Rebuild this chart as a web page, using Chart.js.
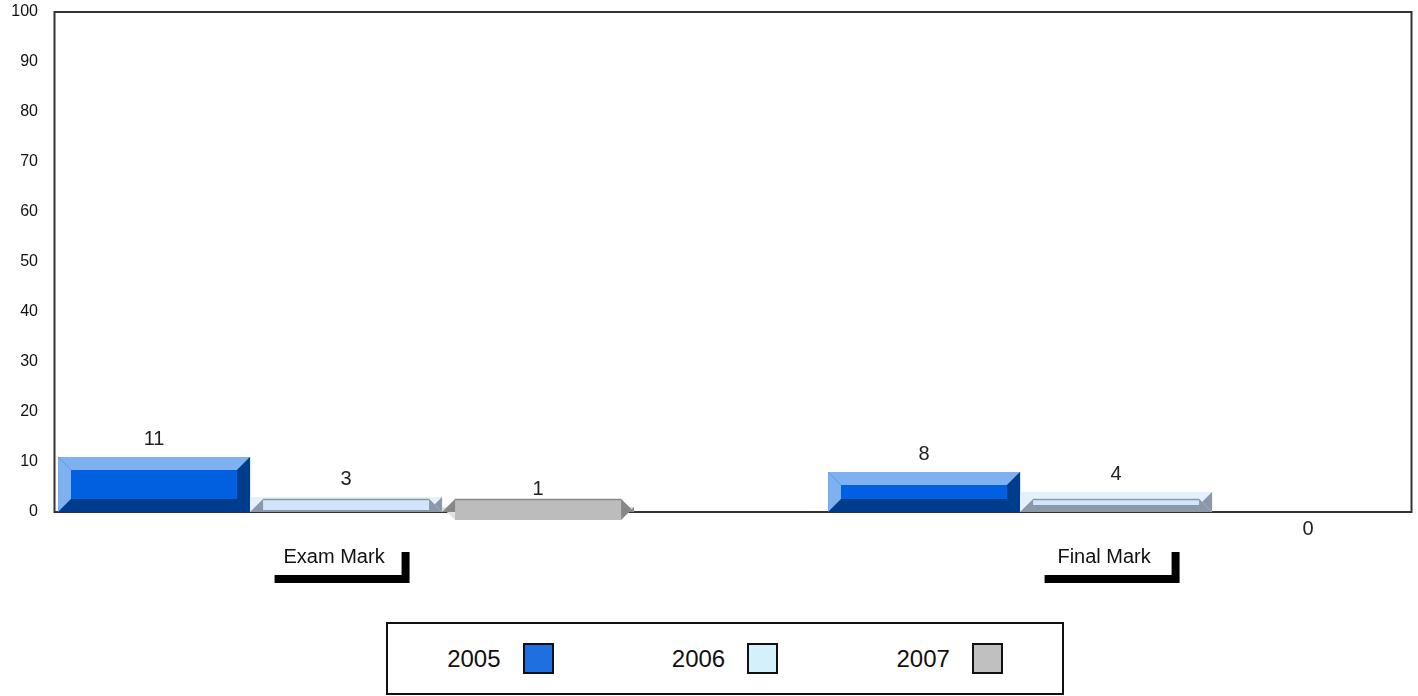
<!DOCTYPE html>
<html>
<head>
<meta charset="utf-8">
<script src="https://cdn.jsdelivr.net/npm/chart.js@4"></script>
<style>
  body { margin: 0; background: #fff; }
  #wrap { position: relative; width: 1418px; height: 696px; }
  #legend {
    position: absolute; left: 386px; top: 622px; width: 678px; height: 73px;
    box-sizing: border-box; border: 2px solid #111; background: #fff;
    display: flex; justify-content: space-around; align-items: center;
    font-family: "Liberation Sans", Arial, sans-serif; font-size: 24px; color: #111;
  }
  #legend .item { display: flex; align-items: center; gap: 22px; }
  #legend .sw { width: 31px; height: 31px; box-sizing: border-box; border: 2px solid #111; }
</style>
</head>
<body>
<div id="wrap">
  <canvas id="chart"></canvas>
  <div id="legend"></div>
</div>
<script>
// data
const categories = ['Exam Mark', 'Final Mark'];
const years = ['2005', '2006', '2007'];
const marks2005 = [11, 8];
const marks2006 = [3, 4];
const marks2007 = [1, 0];

// colours: face, light bevel, dark bevel, legend swatch
const faceColors = ['#0060e0', '#d2e4fa', '#bcbcbc'];
const lightColors = ['#7fb0ef', '#e6f0fc', '#e2e2e2'];
const darkColors = ['#003c8c', '#8a98aa', '#888888'];
const swatchColors = ['#1f6fe0', '#d4f0fa', '#c0c0c0'];

const seriesValues = [marks2005, marks2006, marks2007];

// legend (text left of the swatch, inside a framed box)
const legendEl = document.getElementById('legend');
years.forEach((y, i) => {
  const it = document.createElement('div');
  it.className = 'item';
  it.innerHTML = '<span>' + y + '</span><span class="sw" style="background:' + swatchColors[i] + '"></span>';
  legendEl.appendChild(it);
});

// frame around the plot, drawn under the bars
const framePlugin = {
  id: 'frame',
  beforeDatasetsDraw(chart) {
    const { ctx, chartArea: a } = chart;
    ctx.save();
    ctx.strokeStyle = '#333';
    ctx.lineWidth = 2;
    ctx.strokeRect(a.left - 0.5, a.top, a.right - a.left + 1, a.bottom - a.top);
    ctx.restore();
  }
};

// 3D bevel look on top of each bar, plus the value labels
const bevelPlugin = {
  id: 'bevel',
  afterDatasetsDraw(chart) {
    const ctx = chart.ctx;
    const b = 13;
    chart.data.datasets.forEach((ds, di) => {
      const meta = chart.getDatasetMeta(di);
      meta.data.forEach((bar, i) => {
        const v = seriesValues[di][i];
        const L = bar.x - bar.width / 2, R = bar.x + bar.width / 2;
        const T = bar.y, B = bar.base;
        ctx.save();
        if (v !== 0) {
          const l = L + b, r = R - b, t = T + b, bt = B - b;
          const poly = (pts, col) => {
            ctx.beginPath();
            ctx.moveTo(pts[0][0], pts[0][1]);
            for (let k = 1; k < pts.length; k++) ctx.lineTo(pts[k][0], pts[k][1]);
            ctx.closePath();
            ctx.fillStyle = col;
            ctx.fill();
          };
          poly([[L, T], [R, T], [r, t], [l, t]], lightColors[di]);
          poly([[L, T], [l, t], [l, bt], [L, B]], lightColors[di]);
          poly([[L, B], [R, B], [r, bt], [l, bt]], darkColors[di]);
          poly([[R, T], [R, B], [r, bt], [r, t]], darkColors[di]);
          const fy = Math.min(t, bt), fh = Math.abs(bt - t);
          ctx.fillStyle = faceColors[di];
          ctx.fillRect(l, fy, r - l, fh);
          if (t > bt) {
            ctx.strokeStyle = darkColors[di];
            ctx.lineWidth = 1.5;
            ctx.beginPath();
            ctx.moveTo(l, fy + 0.5);
            ctx.lineTo(r, fy + 0.5);
            ctx.stroke();
          }
        }
        ctx.fillStyle = '#222';
        ctx.font = '20px "Liberation Sans", Arial, sans-serif';
        ctx.textAlign = 'center';
        ctx.textBaseline = 'middle';
        const ly = v === 0 ? B + 17 : T - 18;
        ctx.fillText(String(v), bar.x, ly);
        ctx.restore();
      });
    });
  }
};

// category labels in white boxes with a black drop shadow
const catLabelPlugin = {
  id: 'catLabels',
  afterDraw(chart) {
    const ctx = chart.ctx;
    const xs = chart.scales.x;
    const w = 135, h = 31, sh = 8;
    const top = chart.chartArea.bottom + 32;
    categories.forEach((c, i) => {
      const cx = xs.getPixelForValue(i) - 12;
      const left = cx - w / 2;
      ctx.save();
      ctx.fillStyle = '#000';
      ctx.fillRect(left + sh, top + sh, w, h);
      ctx.fillStyle = '#fff';
      ctx.fillRect(left, top, w, h);
      ctx.fillStyle = '#111';
      ctx.font = '20px "Liberation Sans", Arial, sans-serif';
      ctx.textAlign = 'center';
      ctx.textBaseline = 'middle';
      ctx.fillText(c, cx, top + h / 2 - 2);
      ctx.restore();
    });
  }
};

const datasets = years.map((y, di) => ({
  label: y,
  data: seriesValues[di].map((v, i) => ({ x: i, y: v })),
  backgroundColor: faceColors[di],
  borderWidth: 0,
  barPercentage: 1.0,
  categoryPercentage: 0.748
}));

new Chart(document.getElementById('chart'), {
  type: 'bar',
  data: { datasets },
  options: {
    responsive: true,
    maintainAspectRatio: false,
    animation: false,
    layout: { padding: { top: 12, right: 7, left: 0, bottom: 0 } },
    plugins: {
      legend: { display: false },
      tooltip: { enabled: false }
    },
    scales: {
      x: {
        type: 'linear',
        offset: false,
        min: -0.378,
        max: 1.383,
        grid: { display: false, drawTicks: false, offset: false },
        border: { display: false },
        ticks: { display: false, stepSize: 1, includeBounds: false },
        afterFit: (s) => { s.height = 184; }
      },
      y: {
        min: 0,
        max: 100,
        grid: { display: false, drawTicks: true, tickLength: 17, tickColor: 'rgba(0,0,0,0)' },
        border: { display: false },
        ticks: {
          stepSize: 10,
          padding: 0,
          color: '#111',
          font: { family: '"Liberation Sans", Arial, sans-serif', size: 16 }
        },
        afterFit: (s) => { s.width = 55; }
      }
    }
  },
  plugins: [framePlugin, bevelPlugin, catLabelPlugin]
});
</script>
</body>
</html>
